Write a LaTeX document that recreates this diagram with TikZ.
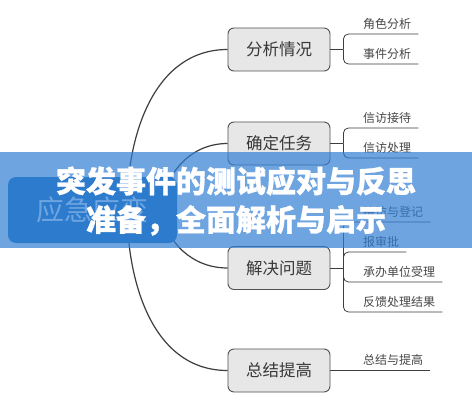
\documentclass[tikz,border=0pt]{standalone}
\usepackage{fontspec}
\newfontfamily\cjk[BoldFeatures={FakeBold=1}]{Noto Sans CJK SC}
\usetikzlibrary{positioning, backgrounds, calc}
\definecolor{topicgray}{RGB}{231,231,231}
\definecolor{linegray}{RGB}{62,62,62}
\definecolor{rootblue}{RGB}{34,116,184}
\definecolor{bannerblue}{RGB}{49,127,213}

\begin{document}
\begin{tikzpicture}[x=1pt, y=1pt,
		topic/.style={draw=linegray!90, fill=topicgray, rounded corners=6pt, line width=0.9pt, minimum width=102pt, minimum height=43pt, text=black!78, font=\cjk\fontsize{16.5}{18}\selectfont},
		leaf/.style={anchor=south west, inner xsep=3pt, inner ysep=3.5pt, text height=9pt, text depth=2pt, text=black!72, font=\cjk\fontsize{12}{14}\selectfont},
		branch/.style={draw=linegray, line width=1.2pt},
		twig/.style={draw=linegray, line width=0.8pt, rounded corners=5pt}]
		\useasboundingbox (0,0) rectangle (472,400);
		
		\node[fill=rootblue, rounded corners=8pt, minimum width=169pt, minimum height=66pt, text=white, font=\cjk\fontsize{28}{30}\selectfont] (root) at (92.5,190) {应急应变};
		
		\node[topic] (fenxi) at (279,350.5) {分析情况};
		\node[topic] (renwu) at (279,256.5) {确定任务};
		\node[topic] (jiejue) at (279,132) {解决问题};
		\node[topic] (tigao) at (279,29.5) {总结提高};
		
		\node[leaf] (jiaose) at (360,366) {角色分析};
		\node[leaf] (shijian) at (360,336) {事件分析};
		\node[leaf] (jiedai) at (360,272) {信访接待};
		\node[leaf] (chuli) at (360,242) {信访处理};
		\node[leaf] (dengji) at (360,178) {接访与登记};
		\node[leaf] (shenpi) at (360,148) {报审批};
		\node[leaf] (shouli) at (360,118) {承办单位受理};
		\node[leaf] (fankui) at (360,88) {反馈处理结果};
		\node[leaf] (zongjie) at (360,29.5) {总结与提高};
		
		\begin{scope}[on background layer]
		\fill[white] (0,0) rectangle (472,400);
		\coordinate (hubA) at ($(root.center)+(34.5,2)$);
		\coordinate (hubB) at ($(root.center)+(67.5,2)$);
		\draw[branch] (hubA) to[out=90, in=180] (fenxi.west);
		\draw[branch] (hubB) to[out=80, in=180] (renwu.west);
		\draw[branch] (hubB) to[out=-80, in=180] (jiejue.west);
		\draw[branch] (hubA) to[out=-90, in=180] (tigao.west);
		\end{scope}
		
		% brackets to the leaves
		\coordinate (jA) at ($(fenxi.east)+(13,0)$);
		\coordinate (jB) at ($(renwu.east)+(13,0)$);
		\coordinate (jC) at ($(jiejue.east)+(13,0)$);
		\draw[twig] (fenxi.east) -- (jA);
		\draw[twig] (renwu.east) -- (jB);
		\draw[twig] (jiejue.east) -- (jC);
		\draw[twig] (jA) |- ([xshift=4pt]jiaose.south east);
		\draw[twig] (jA) |- ([xshift=4pt]shijian.south east);
		\draw[twig] (jB) |- ([xshift=4pt]jiedai.south east);
		\draw[twig] (jB) |- ([xshift=4pt]chuli.south east);
		\draw[twig] (jC) |- ([xshift=4pt]dengji.south east);
		\draw[twig] (jC) |- ([xshift=4pt]shenpi.south east);
		\draw[twig] (jC) |- ([xshift=4pt]shouli.south east);
		\draw[twig] (jC) |- ([xshift=4pt]fankui.south east);
		\draw[twig] (tigao.east) -- ([xshift=4pt]zongjie.south east);
		
		\fill[bannerblue, fill opacity=0.7] (0,152) rectangle (472,248);
		\node[text=white, align=center, font=\cjk\bfseries\fontsize{30}{38.5}\selectfont] (title) at (236,199) {突发事件的测试应对与反思\\准备，全面解析与启示};
\end{tikzpicture}
\end{document}
